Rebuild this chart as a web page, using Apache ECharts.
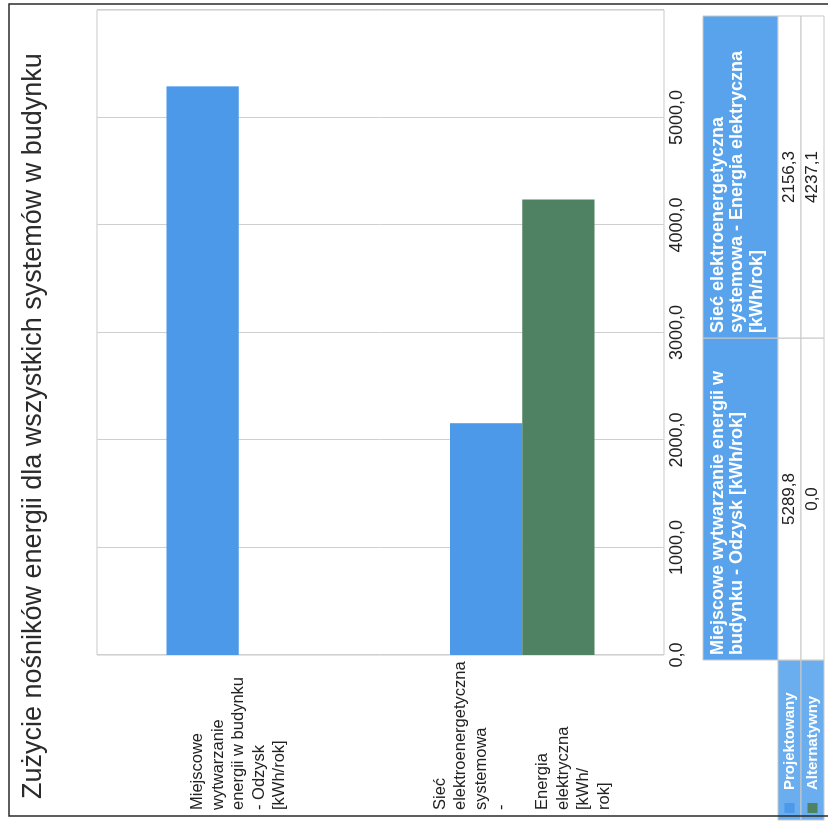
<!DOCTYPE html>
<html>
<head>
<meta charset="utf-8">
<script src="https://cdn.jsdelivr.net/npm/echarts@6/dist/echarts.min.js"></script>
<style>
html, body { margin: 0; padding: 0; background: #fff; overflow: hidden; }
/* skan jest obrocony o 90 stopni - rysujemy normalnie i obracamy caly kontener */
#main { width: 828px; height: 828px; transform: rotate(-90deg); }
</style>
</head>
<body>
<div id="main"></div>
<script>
// dane wykresu
var chartTitle = 'Zużycie nośników energii dla wszystkich systemów w budynku';
var categories = [
    'Miejscowe\nwytwarzanie\nenergii w budynku\n- Odzysk\n[kWh/rok]',
    'Sieć\nelektroenergetyczna\nsystemowa\n-\n\nEnergia\nelektryczna\n[kWh/\nrok]'
];
var tableHeaders = [
    'Miejscowe wytwarzanie energii w\nbudynku - Odzysk [kWh/rok]',
    'Sieć elektroenergetyczna\nsystemowa - Energia elektryczna\n[kWh/rok]'
];
var seriesNames = ['Projektowany', 'Alternatywny'];
var projektowany = [5289.8, 2156.3];
var alternatywny = [0.0, 4237.1];
var axisMax = 6000;
var axisStep = 1000;

var colors = ['#4b99e8', '#4f8262'];
var font = 'Liberation Sans, Arial, sans-serif';

function fmt(v) {
    return v.toFixed(1).replace('.', ',');
}

var myChart = echarts.init(document.getElementById('main'));

// tabela danych pod wykresem (kolumny: legenda, kategoria 1, kategoria 2)
var colX = [8, 168, 490, 812];
var rowY = [703, 778, 801, 824];
var graphics = [];

// ramka calej strony
graphics.push({
    type: 'rect',
    shape: { x: 12, y: 9, width: 812, height: 900 },
    style: { fill: null, stroke: '#2a2a2a', lineWidth: 1.5 },
    z: 10
});

// naglowki kolumn
for (var c = 0; c < tableHeaders.length; c++) {
    graphics.push({
        type: 'rect',
        shape: { x: colX[c + 1], y: rowY[0], width: colX[c + 2] - colX[c + 1], height: rowY[1] - rowY[0] },
        style: { fill: '#58a3ec', stroke: '#c8c8c8', lineWidth: 1 }
    });
    graphics.push({
        type: 'text',
        x: colX[c + 1] + 5,
        y: rowY[0] + 5,
        style: {
            text: tableHeaders[c],
            fill: '#fff',
            font: 'bold 18px ' + font,
            lineHeight: 19.5,
            verticalAlign: 'top'
        }
    });
}

// wiersze serii
var rows = [projektowany, alternatywny];
for (var r = 0; r < rows.length; r++) {
    var y0 = rowY[r + 1], h = rowY[r + 2] - rowY[r + 1];
    graphics.push({
        type: 'rect',
        shape: { x: colX[0], y: y0, width: colX[1] - colX[0], height: h },
        style: { fill: '#6aaef0', stroke: '#c8c8c8', lineWidth: 1 }
    });
    graphics.push({
        type: 'rect',
        shape: { x: 15, y: y0 + h / 2 - 5, width: 10, height: 10 },
        style: { fill: colors[r] }
    });
    graphics.push({
        type: 'text',
        x: 38,
        y: y0 + h / 2,
        style: {
            text: seriesNames[r],
            fill: '#fff',
            font: 'bold 15px ' + font,
            verticalAlign: 'middle'
        }
    });
    for (var k = 0; k < rows[r].length; k++) {
        graphics.push({
            type: 'rect',
            shape: { x: colX[k + 1], y: y0, width: colX[k + 2] - colX[k + 1], height: h },
            style: { fill: '#fff', stroke: '#c8c8c8', lineWidth: 1 }
        });
        graphics.push({
            type: 'text',
            x: (colX[k + 1] + colX[k + 2]) / 2,
            y: y0 + h / 2,
            style: {
                text: fmt(rows[r][k]),
                fill: '#222',
                font: '17px ' + font,
                align: 'center',
                verticalAlign: 'middle'
            }
        });
    }
}

var option = {
    backgroundColor: '#fff',
    animation: false,
    title: {
        text: chartTitle,
        left: 24,
        top: 15,
        textStyle: { fontSize: 27, fontWeight: 'normal', color: '#2b2b2b', fontFamily: font }
    },
    grid: {
        left: 173,
        right: 10,
        top: 97,
        bottom: 164,
        show: true,
        borderColor: '#c9c9c9',
        borderWidth: 1
    },
    xAxis: {
        type: 'value',
        min: 0,
        max: axisMax,
        interval: axisStep,
        axisLine: { show: false },
        axisTick: { show: false },
        splitLine: { lineStyle: { color: '#cfcfcf', width: 1 } },
        axisLabel: {
            showMaxLabel: false,
            margin: 4,
            fontSize: 18,
            color: '#222',
            fontFamily: font,
            formatter: function (v) { return fmt(v); }
        }
    },
    yAxis: {
        type: 'category',
        inverse: true,
        data: categories,
        axisLine: { show: false },
        axisTick: { show: false },
        axisLabel: {
            align: 'left',
            margin: 155,
            fontSize: 16.5,
            lineHeight: 20.5,
            padding: [0, 0, 26, 0],
            color: '#222',
            fontFamily: font
        }
    },
    series: [
        {
            name: seriesNames[0],
            type: 'bar',
            data: projektowany,
            barGap: 0,
            barCategoryGap: '49%',
            itemStyle: { color: colors[0] }
        },
        {
            name: seriesNames[1],
            type: 'bar',
            data: alternatywny,
            barGap: 0,
            barCategoryGap: '49%',
            itemStyle: { color: colors[1] }
        }
    ],
    graphic: graphics
};

myChart.setOption(option);
</script>
</body>
</html>
